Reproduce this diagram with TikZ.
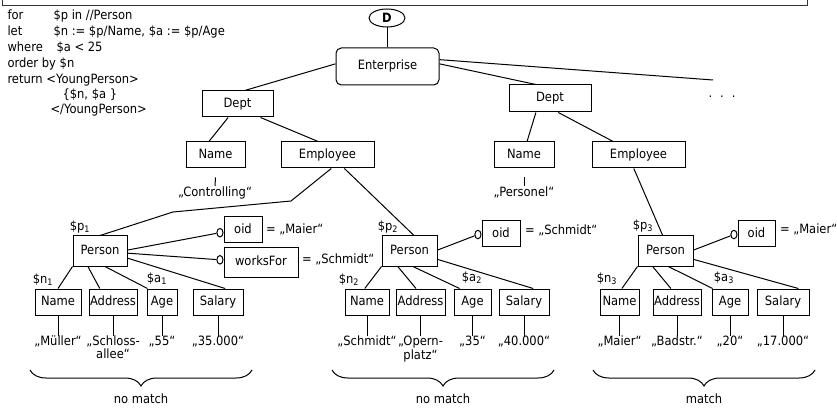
\documentclass[tikz,border=0pt]{standalone}
\usepackage{fontspec}
\setmainfont[FakeStretch=0.9]{DejaVu Sans}
\usetikzlibrary{calc,shapes.geometric,decorations.pathreplacing}

\tikzset{
  bx/.style 2 args={draw, inner sep=0pt, minimum width=#1*0.75pt,
    minimum height=#2*0.75pt, text height=7.1pt, text depth=2.1pt},
  rbx/.style 2 args={bx={#1}{#2}, rounded corners=4pt},
  knob/.style={draw, ellipse, fill=white, inner sep=0pt,
    minimum width=4.6pt, minimum height=6.4pt},
  val/.style={anchor=north, inner sep=0pt, align=center,
    font=\fontsize{9.6}{8}\selectfont},
  lbl/.style={inner sep=0pt},
  qline/.style={anchor=base west, inner sep=0pt},
  curly/.style={decorate, decoration={brace, mirror, amplitude=12pt}},
}

\begin{document}
\begin{tikzpicture}[x=0.75pt, y=-0.75pt, line width=0.75pt,
  every node/.style={font=\fontsize{9.6}{11.5}\selectfont}]
\useasboundingbox (0,0) rectangle (837,409);

% lower edge of the query panel
\begin{scope}
  \clip (0,0) rectangle (837,409);
  \draw[black!80] (2,-20) rectangle (807,6);
\end{scope}

% XQuery expression
\node[qline] (q1a) at (7,19.5) {for};
\node[qline] (q1b) at (53,19.5) {\$p in //Person};
\node[qline] (q2a) at (7,35.5) {let};
\node[qline] (q2b) at (53,35.5) {\$n := \$p/Name, \$a := \$p/Age};
\node[qline] (q3a) at (7,51.5) {where};
\node[qline] (q3b) at (56,51.5) {\$a < 25};
\node[qline] (q4) at (7,67.5) {order by \$n};
\node[qline] (q5) at (7,83.5) {return <YoungPerson>};
\node[qline] (q6) at (62,98.5) {\{\$n, \$a \}};
\node[qline] (q7) at (50,113.5) {</YoungPerson>};

% document root and upper levels
\node[draw, ellipse, inner sep=0pt, minimum width=27pt, minimum height=13.5pt,
  font=\fontsize{9.6}{11.5}\selectfont\bfseries] (doc) at (387,18) {D};
\node[rbx={103}{37}] (ent) at (387.5,66.5) {Enterprise};
\draw (doc.south) -- (doc.south |- ent.north);

\node[bx={71}{26}] (dptA) at (237.5,104) {Dept};
\node[bx={82}{27}] (dptB) at (550,98.5) {Dept};
\coordinate (more) at (713,80);
\node[anchor=base, inner sep=0pt] (dots) at (722,97.5) {.\hspace{6pt}.\hspace{6pt}.};

\draw ($(ent.north west)!0.43!(ent.south west)$) -- ($(dptA.north west)!0.6!(dptA.north east)$);
\draw ($(ent.north east)!0.43!(ent.south east)$) -- ($(dptB.north west)!0.33!(dptB.north east)$);
\draw ($(ent.north east)!0.32!(ent.south east)$) -- (more);

\node[bx={59}{26}] (nmA) at (215.5,155) {Name};
\node[bx={93}{26}] (empA) at (327.5,155) {Employee};
\node[bx={60}{26}] (nmB) at (524,155) {Name};
\node[bx={93}{26}] (empB) at (638.5,155) {Employee};

\draw ($(dptA.south west)!0.37!(dptA.south east)$) -- ($(nmA.north west)!0.39!(nmA.north east)$);
\draw ($(dptA.south west)!0.82!(dptA.south east)$) -- ($(empA.north west)!0.4!(empA.north east)$);
\draw ($(dptB.south west)!0.33!(dptB.south east)$) -- ($(nmB.north west)!0.55!(nmB.north east)$);
\draw ($(dptB.south west)!0.6!(dptB.south east)$) -- ($(empB.north west)!0.23!(empB.north east)$);

\node[val] (ctl) at (215,186) {„Controlling“};
\node[val] (prs) at (524,186) {„Personel“};
\draw ($(nmA.south)+(0,9)$) -- (ctl.north);
\draw ($(nmB.south)+(0,9)$) -- (prs.north);

% persons
\node[bx={54}{30}] (pA) at (100,251) {Person};
\node[bx={55}{30}] (pB) at (409.5,251) {Person};
\node[bx={55}{30}] (pC) at (665.5,251) {Person};
\node[lbl] (lpA) at (80,227) {\$p\textsubscript{1}};
\node[lbl] (lpB) at (388,227) {\$p\textsubscript{2}};
\node[lbl] (lpC) at (643,226) {\$p\textsubscript{3}};

\coordinate (bendA) at (291,201);
\coordinate (bendB) at (173,212);
\draw ($(empA.south west)!0.54!(empA.south east)$) -- (bendA) -- (bendB) -- (pA.north);
\draw ($(empA.south west)!0.68!(empA.south east)$) -- ($(pB.north west)!0.58!(pB.north east)$);
\draw ($(empB.south west)!0.45!(empB.south east)$) -- ($(pC.north west)!0.45!(pC.north east)$);

% identifying attributes
\node[bx={38}{26}] (oA) at (243,230) {oid};
\node[bx={74}{29.5}] (wA) at (261,262.25) {worksFor};
\node[bx={38}{26}] (oB) at (501,234) {oid};
\node[bx={37}{26}] (oC) at (756.5,234) {oid};
\node[knob, anchor=east] (kA) at ($(oA.north west)!0.6!(oA.south west)$) {};
\node[knob, anchor=east] (kW) at ($(wA.north west)!0.42!(wA.south west)$) {};
\node[knob, anchor=east] (kB) at ($(oB.north west)!0.52!(oB.south west)$) {};
\node[knob, anchor=east] (kC) at ($(oC.north west)!0.52!(oC.south west)$) {};
\node[lbl, anchor=west] (eA) at ($(oA.east)+(3,-1)$) {= „Maier“};
\node[lbl, anchor=west] (eW) at ($(wA.east)+(3,-3)$) {= „Schmidt“};
\node[lbl, anchor=west] (eB) at ($(oB.east)+(4,-4)$) {= „Schmidt“};
\node[lbl, anchor=west] (eC) at ($(oC.east)+(4,-5)$) {= „Maier“};

\draw ($(pA.north east)!0.47!(pA.south east)$) -- (kA);
\draw ($(pA.north east)!0.57!(pA.south east)$) -- (kW);
\draw ($(pB.north east)!0.47!(pB.south east)$) -- (kB);
\draw ($(pC.north east)!0.47!(pC.south east)$) -- (kC);

% leaf elements
\node[bx={46}{26}] (nA) at (58,302) {Name};
\node[bx={48}{26}] (aA) at (113,302) {Address};
\node[bx={30}{26}] (gA) at (162,302) {Age};
\node[bx={50}{26}] (sA) at (218,302) {Salary};
\node[bx={44}{26}] (nB) at (367,302) {Name};
\node[bx={49}{26}] (aB) at (420.5,302) {Address};
\node[bx={37}{26}] (gB) at (472.5,302) {Age};
\node[bx={50}{26}] (sB) at (524,302) {Salary};
\node[bx={39}{26}] (nC) at (619.5,302) {Name};
\node[bx={48}{26}] (aC) at (677,302) {Address};
\node[bx={36}{26}] (gC) at (730,302) {Age};
\node[bx={52}{26}] (sC) at (783,302) {Salary};

\node[lbl] (lnA) at (43,280) {\$n\textsubscript{1}};
\node[lbl] (laA) at (157,279) {\$a\textsubscript{1}};
\node[lbl] (lnB) at (349,280) {\$n\textsubscript{2}};
\node[lbl] (laB) at (472,278) {\$a\textsubscript{2}};
\node[lbl] (lnC) at (607,279) {\$n\textsubscript{3}};
\node[lbl] (laC) at (724,278) {\$a\textsubscript{3}};

\draw (pA.south west) -- (nA.north);
\draw ($(pA.south west)!0.28!(pA.south east)$) -- ($(aA.north west)!0.23!(aA.north east)$);
\draw ($(pA.south west)!0.59!(pA.south east)$) -- ($(gA.north west)!0.03!(gA.north east)$);
\draw ($(pA.north east)!0.73!(pA.south east)$) -- ($(sA.north west)!0.64!(sA.north east)$);

\draw (pB.south west) -- ($(nB.north west)!0.45!(nB.north east)$);
\draw ($(pB.south west)!0.29!(pB.south east)$) -- ($(aB.north west)!0.41!(aB.north east)$);
\draw ($(pB.south west)!0.56!(pB.south east)$) -- ($(gB.north west)!0.16!(gB.north east)$);
\draw ($(pB.north east)!0.77!(pB.south east)$) -- ($(sB.north west)!0.68!(sB.north east)$);

\draw (pC.south west) -- ($(nC.north west)!0.56!(nC.north east)$);
\draw ($(pC.south west)!0.27!(pC.south east)$) -- ($(aC.north west)!0.375!(aC.north east)$);
\draw ($(pC.south west)!0.55!(pC.south east)$) -- ($(gC.north west)!0.03!(gC.north east)$);
\draw ($(pC.north east)!0.77!(pC.south east)$) -- ($(sC.north west)!0.79!(sC.north east)$);

% values
\node[val] (vnA) at (58,335.5) {„Müller“};
\node[val] (vaA) at (113,335.5) {„Schloss-\\allee“};
\node[val] (vgA) at (162,335.5) {„55“};
\node[val] (vsA) at (218,335.5) {„35.000“};
\node[val] (vnB) at (367,335.5) {„Schmidt“};
\node[val] (vaB) at (420.5,335.5) {„Opern-\\platz“};
\node[val] (vgB) at (472.5,335.5) {„35“};
\node[val] (vsB) at (524,335.5) {„40.000“};
\node[val] (vnC) at (619.5,335.5) {„Maier“};
\node[val] (vaC) at (677,335.5) {„Badstr.“};
\node[val] (vgC) at (730,335.5) {„20“};
\node[val] (vsC) at (783,335.5) {„17.000“};
\foreach \b/\v in {nA/vnA,aA/vaA,gA/vgA,sA/vsA,nB/vnB,aB/vaB,gB/vgB,sB/vsB,nC/vnC,aC/vaC,gC/vgC,sC/vsC}
  \draw (\b.south) -- (\v.north);

% grouping braces
\draw[curly] (30,370) -- (252,370);
\draw[curly] (332,370) -- (554,370);
\draw[curly] (593,370) -- (815,370);
\node (tagA) at (141,399) {no match};
\node (tagB) at (443,399) {no match};
\node (tagC) at (704,399) {match};
\end{tikzpicture}
\end{document}
